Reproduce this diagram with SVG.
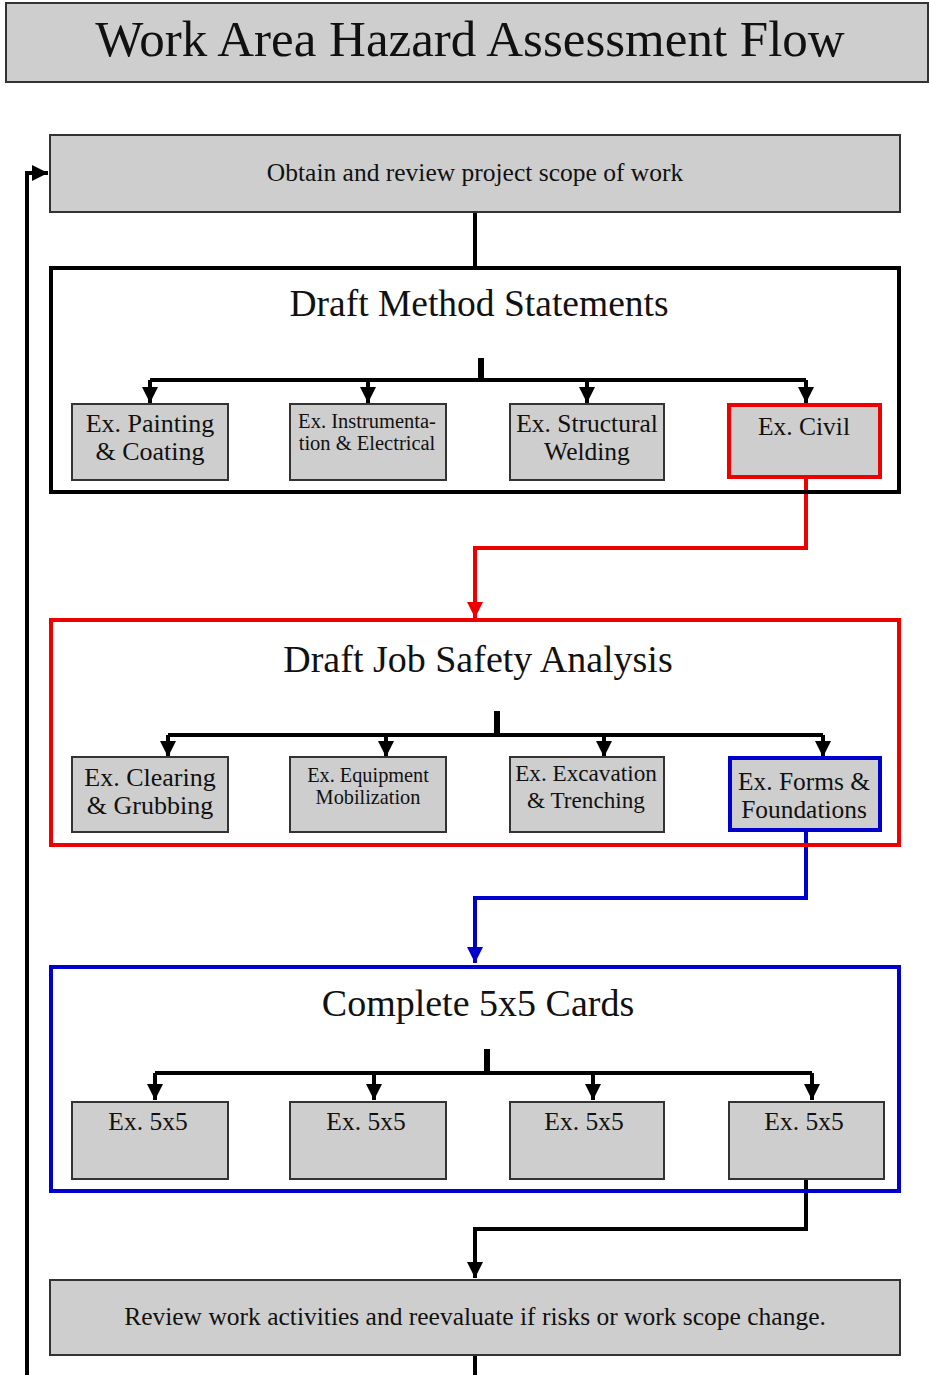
<svg xmlns="http://www.w3.org/2000/svg" width="929" height="1375" viewBox="0 0 929 1375">
<style>
.box{fill:#cecece;stroke:#333;stroke-width:2}
.t{font-family:"Liberation Serif",serif;fill:#111;text-anchor:middle}
.ln{fill:none;stroke:#000;stroke-width:4}
</style>
<defs>
<marker id="ab" viewBox="0 0 10 10" refX="10" refY="5" markerWidth="4" markerHeight="4" orient="auto" markerUnits="strokeWidth"><path d="M0,0L10,5L0,10z" fill="#000"/></marker>
<marker id="ar" viewBox="0 0 10 10" refX="10" refY="5" markerWidth="4" markerHeight="4" orient="auto" markerUnits="strokeWidth"><path d="M0,0L10,5L0,10z" fill="#e00"/></marker>
<marker id="au" viewBox="0 0 10 10" refX="10" refY="5" markerWidth="4" markerHeight="4" orient="auto" markerUnits="strokeWidth"><path d="M0,0L10,5L0,10z" fill="#00c"/></marker>
</defs>
<rect width="929" height="1375" fill="#fff"/>
<g id="title"><rect x="6" y="3" width="922" height="79" class="box"/><text x="470" y="56" class="t" font-size="51">Work Area Hazard Assessment Flow</text></g>

<g id="connectors">
<line x1="475" y1="212" x2="475" y2="268" class="ln"/>
<line x1="481" y1="358" x2="481" y2="382" stroke="#000" stroke-width="6"/>
<line x1="150" y1="380" x2="806" y2="380" class="ln"/>
<line x1="150" y1="380" x2="150" y2="403" class="ln" marker-end="url(#ab)"/>
<line x1="368" y1="380" x2="368" y2="403" class="ln" marker-end="url(#ab)"/>
<line x1="587" y1="380" x2="587" y2="403" class="ln" marker-end="url(#ab)"/>
<line x1="806" y1="380" x2="806" y2="403" class="ln" marker-end="url(#ab)"/>
<polyline points="806,479 806,548 475,548 475,618" fill="none" stroke="#e00" stroke-width="4" marker-end="url(#ar)"/>
<line x1="497" y1="711" x2="497" y2="737" stroke="#000" stroke-width="6"/>
<line x1="168" y1="735" x2="823" y2="735" class="ln"/>
<line x1="168" y1="735" x2="168" y2="757" class="ln" marker-end="url(#ab)"/>
<line x1="386" y1="735" x2="386" y2="757" class="ln" marker-end="url(#ab)"/>
<line x1="604" y1="735" x2="604" y2="757" class="ln" marker-end="url(#ab)"/>
<line x1="823" y1="735" x2="823" y2="757" class="ln" marker-end="url(#ab)"/>
<polyline points="806,832 806,898 475,898 475,963" fill="none" stroke="#00c" stroke-width="4" marker-end="url(#au)"/>
<line x1="487" y1="1049" x2="487" y2="1075" stroke="#000" stroke-width="6"/>
<line x1="155" y1="1073" x2="812" y2="1073" class="ln"/>
<line x1="155" y1="1073" x2="155" y2="1100" class="ln" marker-end="url(#ab)"/>
<line x1="374" y1="1073" x2="374" y2="1100" class="ln" marker-end="url(#ab)"/>
<line x1="593" y1="1073" x2="593" y2="1100" class="ln" marker-end="url(#ab)"/>
<line x1="812" y1="1073" x2="812" y2="1100" class="ln" marker-end="url(#ab)"/>
<polyline points="806,1179 806,1229 475,1229 475,1278" class="ln" marker-end="url(#ab)"/>
<line x1="475" y1="1355" x2="475" y2="1375" class="ln"/>
<polyline points="27,1375 27,173 48,173" class="ln" marker-end="url(#ab)"/>
</g>

<g id="obtain"><rect x="50" y="135" width="850" height="77" class="box"/><text x="475" y="181" class="t" font-size="25.5">Obtain and review project scope of work</text></g>

<g id="method"><rect x="51" y="268" width="848" height="224" fill="none" stroke="#000" stroke-width="4"/><text x="479" y="316" class="t" font-size="37.5">Draft Method Statements</text></g>
<g id="painting"><rect x="72" y="404" width="156" height="76" class="box"/><text class="t" font-size="26"><tspan x="150" y="432">Ex. Painting</tspan><tspan x="150" y="460">&amp; Coating</tspan></text></g>
<g id="instr"><rect x="290" y="404" width="156" height="76" class="box"/><text class="t" font-size="20.5"><tspan x="367" y="428">Ex. Instrumenta-</tspan><tspan x="367" y="450">tion &amp; Electrical</tspan></text></g>
<g id="welding"><rect x="510" y="404" width="154" height="76" class="box"/><text class="t" font-size="25.5"><tspan x="587" y="432">Ex. Structural</tspan><tspan x="587" y="460">Welding</tspan></text></g>
<g id="civil"><rect x="729" y="405" width="151" height="72" fill="#cecece" stroke="#e00" stroke-width="4"/><text x="804" y="435" class="t" font-size="25.5">Ex. Civil</text></g>

<g id="jsa"><rect x="51" y="620" width="848" height="225" fill="none" stroke="#e00" stroke-width="4"/><text x="478" y="672" class="t" font-size="38">Draft Job Safety Analysis</text></g>
<g id="clearing"><rect x="72" y="757" width="156" height="75" class="box"/><text class="t" font-size="26"><tspan x="150" y="786">Ex. Clearing</tspan><tspan x="150" y="814">&amp; Grubbing</tspan></text></g>
<g id="equip"><rect x="290" y="757" width="156" height="75" class="box"/><text class="t" font-size="20.3"><tspan x="368" y="782">Ex. Equipment</tspan><tspan x="368" y="804">Mobilization</tspan></text></g>
<g id="excav"><rect x="510" y="757" width="154" height="75" class="box"/><text class="t" font-size="23.2"><tspan x="586" y="781">Ex. Excavation</tspan><tspan x="586" y="808">&amp; Trenching</tspan></text></g>
<g id="forms"><rect x="730" y="758" width="150" height="72" fill="#cecece" stroke="#00c" stroke-width="4"/><text class="t" font-size="25.4"><tspan x="804" y="790">Ex. Forms &amp;</tspan><tspan x="804" y="818">Foundations</tspan></text></g>

<g id="cards"><rect x="51" y="967" width="848" height="224" fill="none" stroke="#00c" stroke-width="4"/><text x="478" y="1016" class="t" font-size="38">Complete 5x5 Cards</text></g>
<g id="c1"><rect x="72" y="1102" width="156" height="77" class="box"/><text x="148" y="1130" class="t" font-size="25.5">Ex. 5x5</text></g>
<g id="c2"><rect x="290" y="1102" width="156" height="77" class="box"/><text x="366" y="1130" class="t" font-size="25.5">Ex. 5x5</text></g>
<g id="c3"><rect x="510" y="1102" width="154" height="77" class="box"/><text x="584" y="1130" class="t" font-size="25.5">Ex. 5x5</text></g>
<g id="c4"><rect x="729" y="1102" width="155" height="77" class="box"/><text x="804" y="1130" class="t" font-size="25.5">Ex. 5x5</text></g>

<g id="review"><rect x="50" y="1280" width="850" height="75" class="box"/><text x="475" y="1325" class="t" font-size="25.5">Review work activities and reevaluate if risks or work scope change.</text></g>
</svg>
